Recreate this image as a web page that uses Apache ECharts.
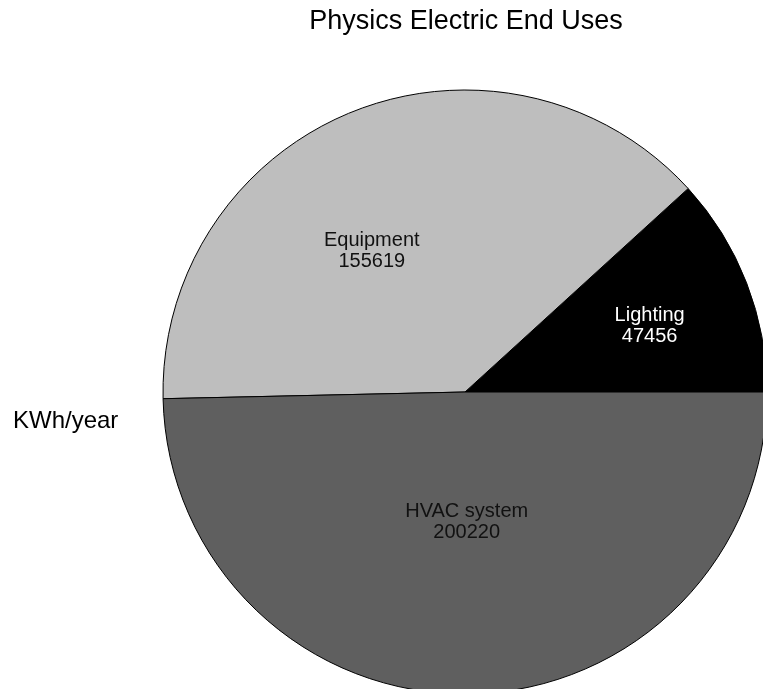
<!DOCTYPE html>
<html>
<head>
<meta charset="utf-8">
<title>Physics Electric End Uses</title>
<script src="https://cdn.jsdelivr.net/npm/echarts@6/dist/echarts.min.js"></script>
<style>
  html, body { margin: 0; padding: 0; background: #ffffff; }
  #chart { width: 763px; height: 689px; }
</style>
</head>
<body>
<div id="chart"></div>
<script>
// Annual electricity use by end use (kWh/year)
const categories = ['Lighting', 'Equipment', 'HVAC system'];
const values = [47456, 155619, 200220];
const sliceColors = ['#000000', '#bebebe', '#5f5f5f'];
const labelColors = ['#ffffff', '#111111', '#111111'];
// nudges for the in-slice labels, away from the default mid-radius spot
const labelOffsets = [[41, -10], [-36, 2], [0, -24]];

const FONT = '"Liberation Sans", Arial, sans-serif';

const chart = echarts.init(document.getElementById('chart'), null, { renderer: 'canvas' });

const pieData = categories.map((name, i) => ({
  name: name,
  value: values[i],
  itemStyle: { color: sliceColors[i] },
  label: { color: labelColors[i], offset: labelOffsets[i] }
}));

chart.setOption({
  animation: false,
  backgroundColor: '#ffffff',
  title: [
    {
      text: 'Physics Electric End Uses',
      left: 461,
      top: 3,
      textAlign: 'center',
      textStyle: { fontFamily: FONT, fontSize: 27, fontWeight: 'normal', color: '#000000' }
    },
    {
      text: 'KWh/year',
      left: 8,
      top: 404,
      textStyle: { fontFamily: FONT, fontSize: 24, fontWeight: 'normal', color: '#000000' }
    }
  ],
  series: [{
    type: 'pie',
    center: [465, 392],
    radius: [0, 302],
    startAngle: 0,
    clockwise: false,
    minAngle: 0,
    avoidLabelOverlap: false,
    emphasis: { disabled: true },
    itemStyle: { borderColor: '#000000', borderWidth: 1 },
    label: {
      show: true,
      position: 'inside',
      fontFamily: FONT,
      fontSize: 20,
      lineHeight: 21,
      align: 'center',
      formatter: p => p.name + '\n' + p.value
    },
    labelLine: { show: false },
    data: pieData
  }]
});
</script>
</body>
</html>
